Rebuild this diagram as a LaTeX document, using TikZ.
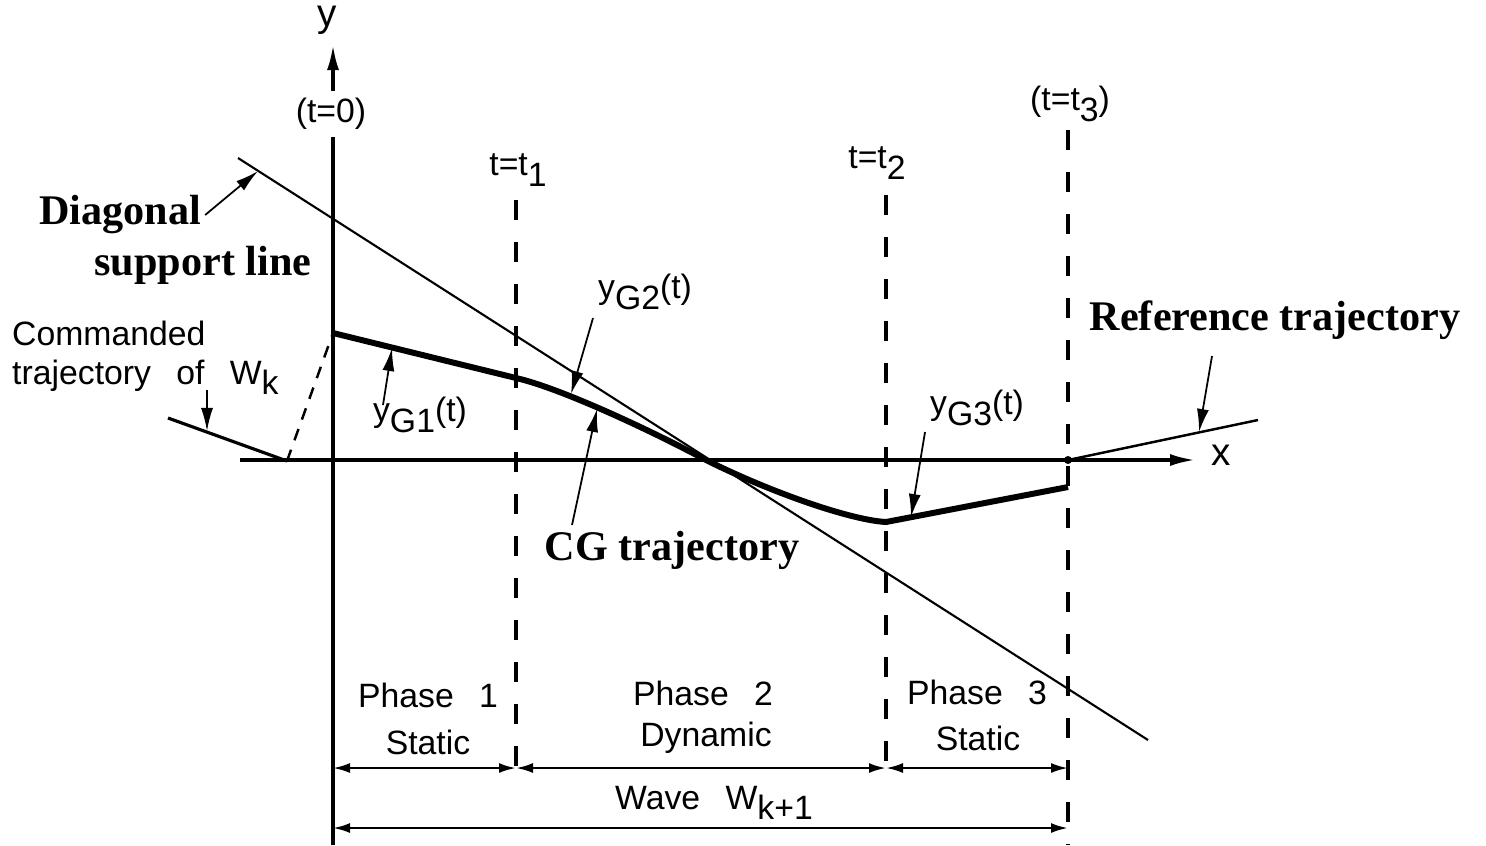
\documentclass[tikz,border=0pt]{standalone}
\usepackage{fontspec}
\setmainfont{Liberation Sans}
\newfontfamily\boldserif{Liberation Serif}
\usetikzlibrary{arrows.meta}
\newcommand{\lowr}[1]{\raisebox{-0.6ex}{#1}}
\newcommand{\widesp}{\spaceskip=0.75em plus 0.1em\relax}

\begin{document}
\begin{tikzpicture}[x=0.01cm, y=-0.01cm,
    lbl/.style={font=\fontsize{9.6}{11}\selectfont\widesp, inner sep=1pt},
    bigl/.style={font=\boldserif\bfseries\fontsize{12}{13}\selectfont, inner sep=1pt},
    axis/.style={line width=0.9pt},
    phase/.style={line width=0.9pt, dash pattern=on 0.2cm off 0.22cm},
    ptr/.style={-{Latex[length=2.3mm,width=1.2mm]}, line width=0.5pt},
    dim/.style={{Latex[length=1.7mm,width=1mm]}-{Latex[length=1.7mm,width=1mm]}, line width=0.7pt}]
    \useasboundingbox (0,0) rectangle (1486,845);

    % axes
    \draw[axis, -{Latex[length=2.5mm,width=1.2mm]}] (333,845) -- (333,45);
    \draw[axis, -{Latex[length=2.5mm,width=1.2mm]}] (240,460) -- (1195,460);
    \node[lbl, font=\fontsize{11}{12}\selectfont] (ylab) at (327,20) {y};
    \node[lbl, font=\fontsize{11}{12}\selectfont] (xlab) at (1221,455) {x};
    \node[lbl, fill=white, inner sep=2pt] (t0) at (331,114) {(t=0)};

    % phase boundaries
    \draw[phase] (516,200) -- (516,782);
    \draw[phase] (886,195) -- (886,782);
    \draw[phase] (1068,130) -- (1068,845);
    \node[lbl] (t1) at (518,170) {t=t\lowr{1}};
    \node[lbl] (t2) at (877,163) {t=t\lowr{2}};
    \node[lbl] (t3) at (1070,104) {(t=t\lowr{3})};

    % diagonal support line
    \draw[line width=0.6pt] (238,158) -- (1148,740);
    \coordinate (dg) at (258,171);
    \node[bigl] (diag) at (120,215) {Diagonal};
    \node[bigl] (supp) at (203,265) {support line};
    \draw[ptr] (diag.east) -- (dg);

    % CG trajectory
    \draw[line width=1.7pt] (333,333) -- (516,378)
        .. controls (560,388) and (650,430) .. (706,460)
        .. controls (770,492) and (850,520) .. (886,522) -- (1068,487);
    \coordinate (g1) at (392,348);
    \coordinate (g2) at (571,394);
    \coordinate (cg) at (597,409);
    \coordinate (g3) at (911,517);
    \node[lbl] (yg1) at (420,415) {y\lowr{G1}(t)};
    \node[lbl] (yg2) at (645,292) {y\lowr{G2}(t)};
    \node[lbl] (yg3) at (977,408) {y\lowr{G3}(t)};
    \node[bigl] (cgl) at (672,550) {CG trajectory};
    \draw[ptr] (383,405) -- (g1);
    \draw[ptr] (593,318) -- (g2);
    \draw[ptr] (572,525) -- (cg);
    \draw[ptr] (925,432) -- (g3);

    % commanded trajectory of W_k
    \coordinate (ck) at (287,461);
    \coordinate (cm) at (207,431);
    \draw[line width=0.9pt] (168,418) -- (ck);
    \draw[line width=0.7pt, dash pattern=on 0.12cm off 0.1cm] (ck) -- (333,333);
    \node[lbl, align=left, anchor=west] (cmd) at (8,358) {Commanded\\ trajectory of W\lowr{k}};
    \draw[ptr] (207,390) -- (cm);

    % reference trajectory
    \fill (1068,460) circle (4);
    \draw[line width=0.7pt] (1068,460) -- (1258,420);
    \coordinate (rt) at (1199,432);
    \node[bigl] (ref) at (1275,320) {Reference trajectory};
    \draw[ptr] (1212,356) -- (rt);

    % phases
    \node[lbl] (p1) at (428,695) {Phase 1};
    \node[lbl] (s1) at (428,742) {Static};
    \node[lbl] (p2) at (703,693) {Phase 2};
    \node[lbl] (s2) at (706,738) {Dynamic};
    \node[lbl] (p3) at (977,692) {Phase 3};
    \node[lbl] (s3) at (978,738) {Static};
    \foreach \n/\x in {a/333,b/516,c/886,d/1068} {
        \coordinate (\n) at (\x,768);
        \coordinate (w\n) at (\x,828);
    }
    \draw[dim] (a) -- (b);
    \draw[dim] (b) -- (c);
    \draw[dim] (c) -- (d);
    \draw[dim] (wa) -- (wd);
    \node[lbl] (wave) at (714,803) {Wave W\lowr{k+1}};
\end{tikzpicture}
\end{document}
